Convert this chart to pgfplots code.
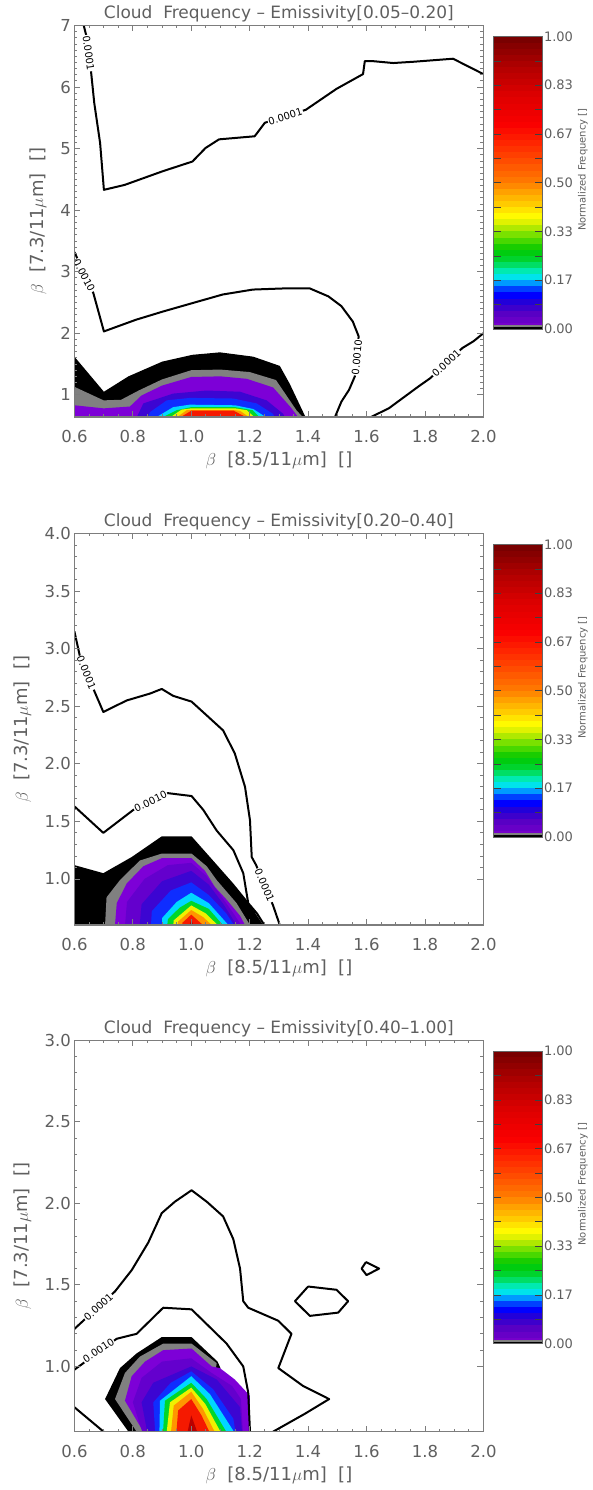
\documentclass[border=0pt]{standalone}
\usepackage{fontspec}
\setmainfont{DejaVu Sans}
\usepackage{pgfplots}
\pgfplotsset{compat=1.18}
\definecolor{txt}{RGB}{95,95,95}
\definecolor{frm}{RGB}{125,125,125}
\definecolor{cgray}{RGB}{128,128,128}
\definecolor{lvA}{RGB}{125,0,215}
\definecolor{lvB}{RGB}{100,0,205}
\definecolor{lvC}{RGB}{60,5,210}
\definecolor{cblue}{RGB}{15,45,255}
\definecolor{ccyan}{RGB}{0,215,255}
\definecolor{cgreen}{RGB}{0,215,40}
\definecolor{cyellow}{RGB}{240,240,0}
\definecolor{corange}{RGB}{255,150,0}
\definecolor{cred}{RGB}{245,25,0}
\definecolor{cdred}{RGB}{185,0,0}
\tikzset{lbl/.style={font=\fontsize{10}{12}\selectfont, fill=white, inner sep=0.8pt, sloped, text=black}}

% colour bar: band k (in units of 1/48) filled from k up to the top
\newcommand\cbb[4]{\addplot[draw=none, mark=none, fill={rgb,255:red,#2;green,#3;blue,#4}] coordinates {(0,#1) (1,#1) (1,48) (0,48)} -- cycle;}
\newcommand\cbbands{%
\cbb{0}{118}{0}{203}\cbb{1}{103}{0}{199}\cbb{2}{88}{0}{196}\cbb{3}{61}{0}{204}%
\cbb{4}{34}{0}{217}\cbb{5}{0}{0}{255}\cbb{6}{0}{64}{255}\cbb{7}{0}{154}{255}%
\cbb{8}{0}{227}{235}\cbb{9}{0}{234}{176}\cbb{10}{0}{222}{101}\cbb{11}{0}{211}{45}%
\cbb{12}{0}{204}{15}\cbb{13}{25}{205}{0}\cbb{14}{72}{216}{0}\cbb{15}{122}{225}{0}%
\cbb{16}{175}{233}{0}\cbb{17}{224}{242}{0}\cbb{18}{255}{250}{0}\cbb{19}{255}{227}{0}%
\cbb{20}{255}{203}{0}\cbb{21}{255}{182}{0}\cbb{22}{255}{161}{0}\cbb{23}{255}{137}{0}%
\cbb{24}{255}{118}{0}\cbb{25}{255}{104}{0}\cbb{26}{255}{90}{0}\cbb{27}{255}{76}{0}%
\cbb{28}{255}{63}{0}\cbb{29}{255}{50}{0}\cbb{30}{255}{37}{0}\cbb{31}{253}{25}{0}%
\cbb{32}{252}{13}{0}\cbb{33}{250}{1}{0}\cbb{34}{244}{0}{0}\cbb{35}{238}{0}{0}%
\cbb{36}{232}{0}{0}\cbb{37}{226}{0}{0}\cbb{38}{219}{0}{0}\cbb{39}{210}{0}{0}%
\cbb{40}{200}{0}{0}\cbb{41}{191}{0}{0}\cbb{42}{182}{0}{0}\cbb{43}{171}{0}{0}%
\cbb{44}{159}{0}{0}\cbb{45}{146}{0}{0}\cbb{46}{134}{0}{0}\cbb{47}{121}{0}{0}%
\addplot[draw=none, mark=none, fill=cgray] coordinates {(0,0) (1,0) (1,0.6) (0,0.6)} -- cycle;
\addplot[draw=none, mark=none, fill=black] coordinates {(0,0) (1,0) (1,0.25) (0,0.25)} -- cycle;
}

\pgfplotsset{
  ctr/.style={draw=black, line width=2pt, line join=round, mark=none},
  fl/.style={draw=none, mark=none},
  cloudpanel/.style={
    scale only axis, width=409pt, height=391.5pt, anchor=south west,
    xmin=0.6, xmax=2.0,
    xtick={0.6,0.8,1.0,1.2,1.4,1.6,1.8,2.0},
    xticklabels={0.6,0.8,1.0,1.2,1.4,1.6,1.8,2.0},
    minor x tick num=3,
    tick align=inside,
    major tick length=6pt, minor tick length=3pt,
    every tick/.append style={frm, line width=0.8pt},
    axis line style={frm, line width=1.1pt},
    xticklabel style={font=\fontsize{16.5}{18}\selectfont, text=txt, yshift=-10pt},
    yticklabel style={font=\fontsize{16.5}{18}\selectfont, text=txt},
    xlabel={$\beta$\ \ [8.5/11$\mu$m]\ \ []},
    ylabel={$\beta$\ \ [7.3/11$\mu$m]\ \ []},
    xlabel style={font=\fontsize{18}{20}\selectfont, text=txt, at={(axis description cs:0.5,-0.111)}, anchor=center},
    ylabel style={font=\fontsize{18}{20}\selectfont, text=txt, anchor=center},
    title style={font=\fontsize{17}{19}\selectfont, text=txt, at={(axis description cs:0.5,1.003)}, anchor=base},
    axis on top,
  },
  cbaxis/.style={
    scale only axis, width=48.5pt, height=292.5pt, anchor=north west,
    xmin=0, xmax=1, ymin=0, ymax=48,
    xtick=\empty,
    ytick={0,8,16,24,32,40,48},
    yticklabels={0.00,0.17,0.33,0.50,0.67,0.83,1.00},
    minor ytick={4,12,20,28,36,44},
    ytick pos=both, yticklabel pos=right,
    tick align=inside,
    major tick length=7pt, minor tick length=7pt,
    every tick/.append style={black!75, line width=0.7pt},
    yticklabel style={font=\fontsize{13}{14}\selectfont, text=txt, inner sep=1.5pt},
    axis line style={black!60, line width=0.8pt},
    ylabel={Normalized Frequency []},
    ylabel style={font=\fontsize{10}{12}\selectfont, text=txt, at={(ticklabel cs:0.545)}},
    axis on top,
  },
}

\begin{document}
\begin{tikzpicture}
\path[use as bounding box] (0,0) rectangle (592pt,1490pt);

% ---------------- Panel 1 ----------------
\begin{axis}[cloudpanel, at={(74.4pt,1073pt)},
  title={Cloud\ \ Frequency -- Emissivity[0.05--0.20]},
  ymin=0.64, ymax=7,
  ytick={1,2,3,4,5,6,7}, yticklabels={1,2,3,4,5,6,7},
  minor y tick num=9,
  ylabel style={at={(axis description cs:-0.089,0.5)}},
]
\addplot[fl, fill=black] coordinates {(0.5,0.5) (0.5,1.62) (0.6,1.62) (0.701,1.05) (0.785,1.30) (0.901,1.54) (1.004,1.65) (1.098,1.69) (1.212,1.62) (1.303,1.47) (1.337,1.18) (1.395,0.6) (1.40,0.5)} -- cycle;
\addplot[fl, fill=cgray] coordinates {(0.5,0.5) (0.5,1.13) (0.6,1.13) (0.70,0.91) (0.76,0.92) (0.82,1.07) (0.90,1.25) (1.0,1.40) (1.1,1.41) (1.2,1.37) (1.29,1.24) (1.36,0.75) (1.389,0.6) (1.39,0.5)} -- cycle;
\addplot[fl, fill=lvA] coordinates {(0.5,0.5) (0.5,0.83) (0.6,0.83) (0.70,0.78) (0.79,0.81) (0.83,0.99) (0.90,1.15) (1.0,1.29) (1.1,1.30) (1.19,1.26) (1.28,1.12) (1.34,0.80) (1.372,0.6) (1.375,0.5)} -- cycle;
\addplot[fl, fill=lvC] coordinates {(0.80,0.5) (0.836,0.86) (0.938,1.02) (1.053,1.07) (1.167,1.05) (1.258,0.91) (1.315,0.69) (1.33,0.5)} -- cycle;
\addplot[fl, fill=cblue] coordinates {(0.84,0.5) (0.859,0.72) (0.916,0.91) (0.995,0.95) (1.144,0.94) (1.224,0.86) (1.28,0.69) (1.30,0.5)} -- cycle;
\addplot[fl, fill=ccyan] coordinates {(0.87,0.5) (0.882,0.64) (0.938,0.80) (0.995,0.84) (1.15,0.83) (1.212,0.77) (1.258,0.63) (1.27,0.5)} -- cycle;
\addplot[fl, fill=cgreen] coordinates {(0.89,0.5) (0.90,0.63) (0.95,0.75) (1.0,0.80) (1.15,0.80) (1.21,0.75) (1.235,0.63) (1.24,0.5)} -- cycle;
\addplot[fl, fill=cyellow] coordinates {(0.92,0.5) (0.927,0.63) (0.967,0.76) (1.0,0.78) (1.15,0.78) (1.19,0.75) (1.218,0.63) (1.22,0.5)} -- cycle;
\addplot[fl, fill=corange] coordinates {(0.94,0.5) (0.95,0.63) (0.984,0.75) (1.15,0.75) (1.167,0.74) (1.2,0.63) (1.2,0.5)} -- cycle;
\addplot[fl, fill=cred] coordinates {(0.95,0.5) (0.961,0.63) (1.001,0.745) (1.144,0.745) (1.19,0.63) (1.19,0.5)} -- cycle;
% contours
\addplot[ctr] coordinates {(0.632,7.0) (0.640,6.85) (0.657,6.25) (0.668,5.74) (0.688,5.09) (0.701,4.33) (0.772,4.41) (0.901,4.63) (1.004,4.79) (1.049,5.01) (1.095,5.15) (1.217,5.20) (1.252,5.42) (1.392,5.63) (1.497,5.97) (1.588,6.21) (1.594,6.42) (1.623,6.42) (1.691,6.39) (1.759,6.41) (1.896,6.46) (2.0,6.21)};
\addplot[ctr] coordinates {(0.6,3.32) (0.665,2.65) (0.701,2.03) (0.811,2.22) (0.901,2.35) (1.004,2.49) (1.108,2.63) (1.211,2.71) (1.327,2.73) (1.405,2.73) (1.469,2.60) (1.514,2.44) (1.553,2.19) (1.573,1.95) (1.565,1.60) (1.560,1.30) (1.540,1.08) (1.514,0.89) (1.492,0.64) (1.49,0.6)};
\addplot[ctr] coordinates {(1.598,0.6) (1.676,0.78) (1.779,1.14) (1.818,1.27) (1.928,1.76) (1.966,1.87) (2.0,2.0)};
\addplot[draw=none] coordinates {(0.640,6.85) (0.657,6.25)} node[pos=0.5, lbl] {0.0001};
\addplot[draw=none] coordinates {(1.252,5.42) (1.392,5.63)} node[pos=0.5, lbl] {0.0001};
\addplot[draw=none] coordinates {(0.603,3.22) (0.664,2.66)} node[pos=0.5, lbl] {0.0010};
\addplot[draw=none] coordinates {(1.573,1.92) (1.561,1.30)} node[pos=0.5, lbl] {0.0010};
\addplot[draw=none] coordinates {(1.818,1.27) (1.928,1.76)} node[pos=0.5, lbl] {0.0001};
\end{axis}
\begin{axis}[cbaxis, at={(493.8pt,1453.5pt)}]
\cbbands
\end{axis}

% ---------------- Panel 2 ----------------
\begin{axis}[cloudpanel, at={(74.4pt,565pt)},
  title={Cloud\ \ Frequency -- Emissivity[0.20--0.40]},
  ymin=0.6, ymax=4,
  ytick={1.0,1.5,2.0,2.5,3.0,3.5,4.0}, yticklabels={1.0,1.5,2.0,2.5,3.0,3.5,4.0},
  minor y tick num=4,
  ylabel style={at={(axis description cs:-0.1266,0.5)}},
]
\addplot[fl, fill=black] coordinates {(0.5,0.5) (0.5,1.12) (0.6,1.12) (0.699,1.05) (0.796,1.19) (0.899,1.37) (1.001,1.37) (1.064,1.19) (1.144,0.96) (1.189,0.82) (1.246,0.6) (1.25,0.5)} -- cycle;
\addplot[fl, fill=cgray] coordinates {(0.70,0.5) (0.705,0.6) (0.71,0.84) (0.756,0.99) (0.824,1.16) (0.899,1.22) (1.001,1.22) (1.053,1.11) (1.087,0.99) (1.155,0.79) (1.201,0.6) (1.205,0.5)} -- cycle;
\addplot[fl, fill=lvA] coordinates {(0.735,0.5) (0.739,0.6) (0.745,0.79) (0.779,0.96) (0.836,1.11) (0.899,1.18) (1.001,1.18) (1.047,1.07) (1.081,0.93) (1.121,0.82) (1.167,0.68) (1.184,0.6) (1.19,0.5)} -- cycle;
\addplot[fl, fill=lvB] coordinates {(0.77,0.5) (0.78,0.80) (0.84,1.0) (0.92,1.12) (1.0,1.14) (1.05,1.03) (1.10,0.86) (1.15,0.68) (1.17,0.6) (1.17,0.5)} -- cycle;
\addplot[fl, fill=lvC] coordinates {(0.82,0.5) (0.83,0.78) (0.90,0.98) (1.0,1.07) (1.06,0.95) (1.11,0.78) (1.155,0.6) (1.16,0.5)} -- cycle;
\addplot[fl, fill=cblue] coordinates {(0.86,0.5) (0.865,0.72) (0.93,0.90) (1.0,0.97) (1.06,0.86) (1.12,0.7) (1.146,0.6) (1.15,0.5)} -- cycle;
\addplot[fl, fill=ccyan] coordinates {(0.90,0.5) (0.90,0.66) (0.95,0.80) (1.0,0.88) (1.06,0.79) (1.127,0.6) (1.13,0.5)} -- cycle;
\addplot[fl, fill=cgreen] coordinates {(0.914,0.5) (0.92,0.65) (0.96,0.75) (1.0,0.81) (1.06,0.74) (1.108,0.6) (1.11,0.5)} -- cycle;
\addplot[fl, fill=cyellow] coordinates {(0.935,0.5) (0.94,0.64) (1.0,0.77) (1.05,0.70) (1.09,0.6) (1.09,0.5)} -- cycle;
\addplot[fl, fill=corange] coordinates {(0.95,0.5) (0.955,0.63) (1.0,0.73) (1.04,0.67) (1.07,0.6) (1.07,0.5)} -- cycle;
\addplot[fl, fill=cred] coordinates {(0.965,0.5) (0.97,0.62) (1.0,0.69) (1.04,0.6) (1.045,0.5)} -- cycle;
\addplot[fl, fill=cdred] coordinates {(0.985,0.5) (1.0,0.65) (1.02,0.5)} -- cycle;
% contours
\addplot[ctr] coordinates {(0.6,3.15) (0.62,2.92) (0.665,2.65) (0.699,2.45) (0.779,2.55) (0.859,2.61) (0.899,2.65) (0.938,2.59) (1.001,2.54) (1.053,2.42) (1.109,2.29) (1.149,2.09) (1.184,1.80) (1.201,1.51) (1.207,1.19) (1.222,1.12) (1.28,0.77) (1.303,0.6)};
\addplot[ctr] coordinates {(0.6,1.63) (0.699,1.40) (0.802,1.60) (0.92,1.745) (1.001,1.72) (1.041,1.60) (1.087,1.42) (1.144,1.25) (1.178,1.05) (1.195,0.79) (1.225,0.70) (1.25,0.6)};
\addplot[draw=none] coordinates {(0.617,2.94) (0.665,2.64)} node[pos=0.5, lbl] {0.0001};
\addplot[draw=none] coordinates {(0.802,1.60) (0.92,1.745)} node[pos=0.5, lbl] {0.0010};
\addplot[draw=none] coordinates {(1.222,1.12) (1.28,0.77)} node[pos=0.5, lbl] {0.0001};
\end{axis}
\begin{axis}[cbaxis, at={(493.8pt,945.5pt)}]
\cbbands
\end{axis}

% ---------------- Panel 3 ----------------
\begin{axis}[cloudpanel, at={(74.4pt,58.3pt)},
  title={Cloud\ \ Frequency -- Emissivity[0.40--1.00]},
  ymin=0.6, ymax=3,
  ytick={1.0,1.5,2.0,2.5,3.0}, yticklabels={1.0,1.5,2.0,2.5,3.0},
  minor y tick num=4,
  ylabel style={at={(axis description cs:-0.1266,0.5)}},
]
\addplot[fl, fill=black] coordinates {(0.78,0.5) (0.785,0.6) (0.705,0.80) (0.756,0.99) (0.813,1.08) (0.899,1.18) (1.001,1.18) (1.09,1.03) (1.10,0.99) (1.05,0.5)} -- cycle;
\addplot[fl, fill=cgray] coordinates {(0.80,0.5) (0.813,0.6) (0.739,0.80) (0.773,0.96) (0.824,1.06) (0.904,1.14) (1.001,1.14) (1.087,1.02) (1.04,0.5)} -- cycle;
\addplot[fl, fill=lvA] coordinates {(0.83,0.5) (0.836,0.6) (0.773,0.79) (0.796,0.94) (0.842,1.03) (0.904,1.10) (1.001,1.11) (1.07,1.00) (1.098,0.99) (1.149,0.92) (1.201,0.82) (1.201,0.5)} -- cycle;
\addplot[fl, fill=lvB] coordinates {(0.85,0.5) (0.80,0.78) (0.83,0.93) (0.90,1.03) (1.0,1.05) (1.07,0.96) (1.14,0.88) (1.17,0.80) (1.18,0.5)} -- cycle;
\addplot[fl, fill=lvC] coordinates {(0.86,0.5) (0.83,0.78) (0.87,0.90) (1.0,1.0) (1.087,0.92) (1.167,0.75) (1.178,0.5)} -- cycle;
\addplot[fl, fill=cblue] coordinates {(0.88,0.5) (0.87,0.78) (0.93,0.90) (1.0,0.97) (1.075,0.86) (1.144,0.68) (1.16,0.5)} -- cycle;
\addplot[fl, fill=ccyan] coordinates {(0.89,0.5) (0.893,0.79) (1.0,0.94) (1.064,0.83) (1.146,0.6) (1.15,0.5)} -- cycle;
\addplot[fl, fill=cgreen] coordinates {(0.90,0.5) (0.91,0.79) (1.0,0.90) (1.053,0.80) (1.12,0.6) (1.125,0.5)} -- cycle;
\addplot[fl, fill=cyellow] coordinates {(0.91,0.5) (0.927,0.78) (1.0,0.87) (1.048,0.77) (1.10,0.6) (1.10,0.5)} -- cycle;
\addplot[fl, fill=corange] coordinates {(0.925,0.5) (0.94,0.76) (1.0,0.845) (1.04,0.74) (1.08,0.6) (1.08,0.5)} -- cycle;
\addplot[fl, fill=cred] coordinates {(0.945,0.5) (0.955,0.73) (1.0,0.80) (1.035,0.70) (1.062,0.6) (1.062,0.5)} -- cycle;
\addplot[fl, fill=cdred] coordinates {(0.975,0.5) (1.0,0.70) (1.02,0.6) (1.025,0.5)} -- cycle;
% contours
\addplot[ctr] coordinates {(0.6,1.23) (0.739,1.46) (0.796,1.59) (0.853,1.76) (0.899,1.94) (0.944,2.01) (1.001,2.08) (1.053,2.01) (1.109,1.92) (1.144,1.78) (1.167,1.60) (1.178,1.40) (1.195,1.36) (1.298,1.28) (1.343,1.20) (1.298,0.99) (1.383,0.88) (1.472,0.80) (1.389,0.71) (1.28,0.6)};
\addplot[ctr] coordinates {(0.6,0.98) (0.745,1.17) (0.813,1.20) (0.904,1.36) (1.001,1.35) (1.064,1.24) (1.121,1.14) (1.178,1.00) (1.195,0.84) (1.201,0.6)};
\addplot[ctr] coordinates {(0.6,0.75) (0.70,0.6)};
\addplot[ctr] coordinates {(1.40,1.49) (1.497,1.47) (1.537,1.40) (1.503,1.33) (1.406,1.31) (1.355,1.40) (1.40,1.49)};
\addplot[ctr] coordinates {(1.598,1.64) (1.643,1.60) (1.60,1.56) (1.583,1.60) (1.598,1.64)};
\addplot[draw=none] coordinates {(0.63,1.28) (0.735,1.45)} node[pos=0.5, lbl] {0.0001};
\addplot[draw=none] coordinates {(0.625,1.03) (0.74,1.165)} node[pos=0.5, lbl] {0.0010};
\end{axis}
\begin{axis}[cbaxis, at={(493.8pt,438.8pt)}]
\cbbands
\end{axis}
\end{tikzpicture}
\end{document}
